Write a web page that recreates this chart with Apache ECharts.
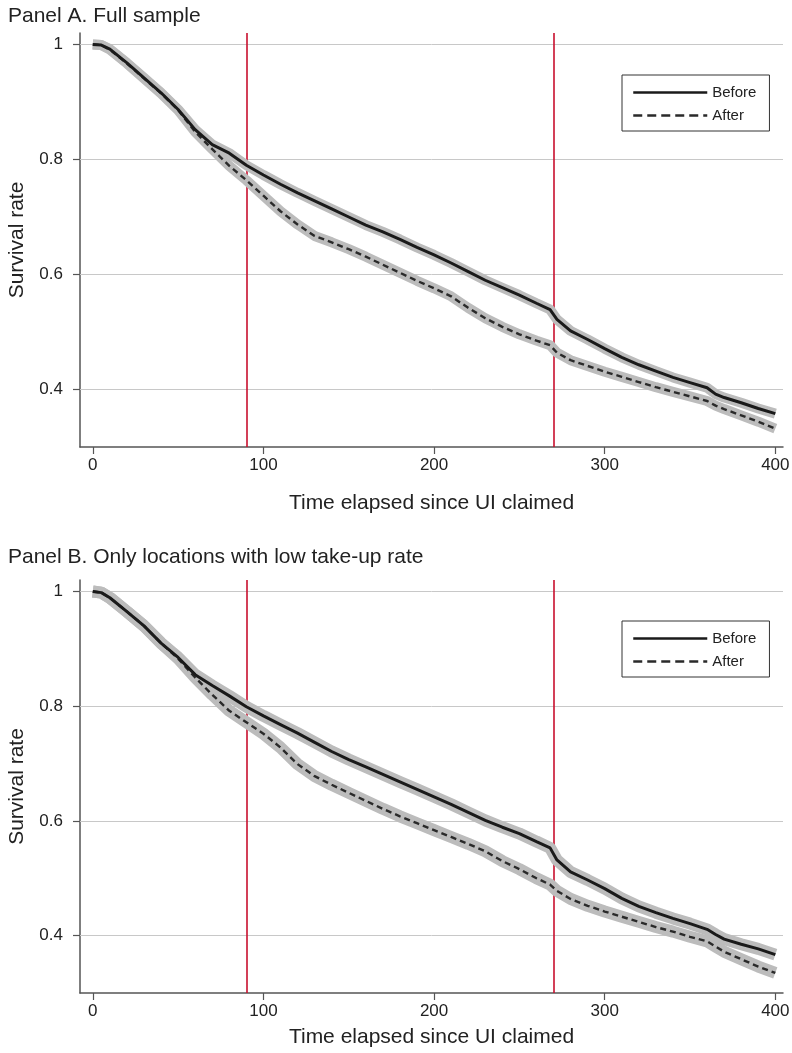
<!DOCTYPE html>
<html lang="en">
<head>
<meta charset="UTF-8">
<title>Survival rate</title>
<script src="https://cdn.jsdelivr.net/npm/echarts@6/dist/echarts.min.js"></script>
<style>
  html, body { margin: 0; padding: 0; background: #fff; }
  #main { width: 792px; height: 1053px; }
</style>
</head>
<body>
<div id="main"></div>
<script>
// days since UI claimed
var days = [0, 5, 10, 20, 30, 40, 50, 60, 70, 80, 90, 100, 110, 120, 130, 140, 150, 160, 170, 180,
            190, 200, 210, 220, 230, 240, 250, 260, 268, 272, 280, 290, 300, 310, 320, 330, 340, 350,
            360, 365, 370, 380, 390, 400];

// Panel A - full sample
var fullBefore = [1.000, 0.999, 0.992, 0.968, 0.942, 0.916, 0.887, 0.852, 0.826, 0.811, 0.790, 0.773, 0.757, 0.742,
                  0.728, 0.714, 0.700, 0.686, 0.674, 0.661, 0.647, 0.634, 0.620, 0.605, 0.590, 0.577, 0.564, 0.550,
                  0.539, 0.522, 0.502, 0.487, 0.471, 0.456, 0.443, 0.432, 0.421, 0.412, 0.403, 0.392, 0.386, 0.377,
                  0.367, 0.358];
var fullAfter  = [1.000, 0.999, 0.991, 0.967, 0.941, 0.915, 0.886, 0.848, 0.818, 0.789, 0.764, 0.737, 0.710, 0.687,
                  0.667, 0.656, 0.644, 0.631, 0.617, 0.603, 0.589, 0.576, 0.562, 0.542, 0.524, 0.509, 0.496, 0.485,
                  0.477, 0.464, 0.451, 0.441, 0.431, 0.422, 0.413, 0.404, 0.396, 0.388, 0.380, 0.372, 0.366, 0.355,
                  0.344, 0.332];

// Panel B - only locations with low take-up rate
var lowBefore  = [1.000, 0.998, 0.989, 0.965, 0.940, 0.910, 0.885, 0.855, 0.836, 0.818, 0.799, 0.783, 0.768, 0.753,
                  0.737, 0.721, 0.707, 0.694, 0.681, 0.668, 0.655, 0.642, 0.629, 0.615, 0.601, 0.589, 0.578, 0.564,
                  0.553, 0.532, 0.511, 0.497, 0.482, 0.465, 0.451, 0.440, 0.430, 0.421, 0.411, 0.402, 0.394, 0.385,
                  0.377, 0.367];
var lowAfter   = [1.000, 0.998, 0.989, 0.965, 0.940, 0.910, 0.883, 0.850, 0.820, 0.792, 0.772, 0.752, 0.728, 0.699,
                  0.678, 0.663, 0.649, 0.635, 0.621, 0.608, 0.596, 0.584, 0.572, 0.560, 0.547, 0.530, 0.516, 0.500,
                  0.489, 0.478, 0.464, 0.452, 0.442, 0.433, 0.424, 0.415, 0.407, 0.398, 0.390, 0.381, 0.372, 0.359,
                  0.346, 0.335];

var xTicks = [0, 100, 200, 300, 400];
var yTicks = [0.4, 0.6, 0.8, 1];
var cutoffs = [90, 270];

var FONT = '"Liberation Sans", Arial, Helvetica, sans-serif';

function pairs(vals) {
    var out = [];
    for (var i = 0; i < days.length; i++) out.push([days[i], vals[i]]);
    return out;
}

function xAxisFor(idx, gap) {
    return {
        type: 'value', gridIndex: idx, min: -7.5, max: 404.5,
        name: 'Time elapsed since UI claimed', nameLocation: 'middle', nameGap: gap,
        nameTextStyle: { fontFamily: FONT, fontSize: 21, color: '#222' },
        axisLine: { show: true, onZero: false, lineStyle: { color: '#555', width: 1.5 } },
        axisTick: { show: true, length: 7, customValues: xTicks, lineStyle: { color: '#555', width: 1.2 } },
        axisLabel: { customValues: xTicks, margin: 10, fontFamily: FONT, fontSize: 17, color: '#222' },
        splitLine: { show: false }
    };
}

function yAxisFor(idx) {
    return {
        type: 'value', gridIndex: idx, min: 0.3, max: 1.02,
        name: 'Survival rate', nameLocation: 'middle', nameGap: 52,
        nameTextStyle: { fontFamily: FONT, fontSize: 21, color: '#222' },
        axisLine: { show: true, onZero: false, lineStyle: { color: '#555', width: 1.5 } },
        axisTick: { show: true, length: 7, customValues: yTicks, lineStyle: { color: '#555', width: 1.2 } },
        axisLabel: {
            customValues: yTicks, margin: 17, fontFamily: FONT, fontSize: 17, color: '#222',
            formatter: function (v) { return String(v); }
        },
        splitLine: { show: false }
    };
}

function guideLines() {
    var d = [];
    yTicks.forEach(function (v) { d.push({ yAxis: v, lineStyle: { color: '#c8c8c8', width: 1 } }); });
    cutoffs.forEach(function (v) { d.push({ xAxis: v, lineStyle: { color: '#c8102e', width: 1.6 } }); });
    return { silent: true, z: 1, symbol: ['none', 'none'], label: { show: false }, animation: false,
             lineStyle: { type: 'solid' }, data: d };
}

function panelSeries(idx, before, after, band) {
    return [
        { name: 'band b' + idx, type: 'line', xAxisIndex: idx, yAxisIndex: idx, data: pairs(before),
          symbol: 'none', z: 2, lineStyle: { color: '#bcbcbc', width: band }, markLine: guideLines() },
        { name: 'band a' + idx, type: 'line', xAxisIndex: idx, yAxisIndex: idx, data: pairs(after),
          symbol: 'none', z: 2, lineStyle: { color: '#bcbcbc', width: band } },
        { name: 'After', type: 'line', xAxisIndex: idx, yAxisIndex: idx, data: pairs(after),
          symbol: 'none', z: 3, itemStyle: { color: '#2a2a2a' },
          lineStyle: { color: '#2a2a2a', width: 2.4, type: [6, 4] } },
        { name: 'Before', type: 'line', xAxisIndex: idx, yAxisIndex: idx, data: pairs(before),
          symbol: 'none', z: 4, itemStyle: { color: '#1a1a1a' },
          lineStyle: { color: '#1a1a1a', width: 3, type: 'solid' } }
    ];
}

function legendAt(top) {
    return {
        left: 622, top: top, orient: 'vertical',
        backgroundColor: '#fff', borderColor: '#333', borderWidth: 1,
        padding: [10, 13, 8, 10], itemGap: 8, itemWidth: 74, itemHeight: 14, itemTextGap: 6,
        selectedMode: false,
        textStyle: { fontFamily: FONT, fontSize: 15, color: '#222' },
        data: [
            { name: 'Before', itemStyle: { opacity: 0 },
              lineStyle: { color: '#1a1a1a', width: 2.5, type: 'solid' } },
            { name: 'After', itemStyle: { opacity: 0 },
              lineStyle: { color: '#2a2a2a', width: 2.5, type: [9, 5] } }
        ]
    };
}

var chart = echarts.init(document.getElementById('main'), null, { renderer: 'canvas' });

var option = {
    animation: false,
    backgroundColor: '#fff',
    title: [
        { text: 'Panel A. Full sample', left: 3, top: 1,
          textStyle: { fontFamily: FONT, fontSize: 21, fontWeight: 'normal', color: '#222' } },
        { text: 'Panel B. Only locations with low take-up rate', left: 3, top: 542,
          textStyle: { fontFamily: FONT, fontSize: 21, fontWeight: 'normal', color: '#222' } }
    ],
    legend: [legendAt(75), legendAt(621)],
    grid: [
        { left: 80, width: 703, top: 33, height: 414, outerBoundsMode: 'none', containLabel: false },
        { left: 80, width: 703, top: 580, height: 413, outerBoundsMode: 'none', containLabel: false }
    ],
    xAxis: [xAxisFor(0, 46), xAxisFor(1, 34)],
    yAxis: [yAxisFor(0), yAxisFor(1)],
    series: panelSeries(0, fullBefore, fullAfter, 10).concat(panelSeries(1, lowBefore, lowAfter, 12))
};

chart.setOption(option);
</script>
</body>
</html>
